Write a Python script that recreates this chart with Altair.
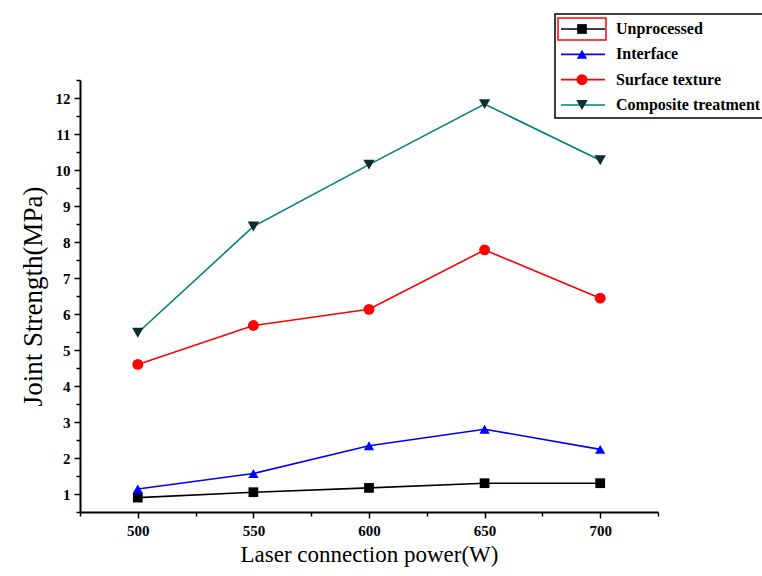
import altair as alt
import pandas as pd

power = [500, 550, 600, 650, 700]
series = ["Unprocessed", "Interface", "Surface texture", "Composite treatment"]
unprocessed = [0.9, 1.05, 1.17, 1.3, 1.3]
interface = [1.14, 1.57, 2.34, 2.8, 2.24]
surface = [4.6, 5.68, 6.13, 7.78, 6.44]
composite = [5.48, 8.43, 10.15, 11.83, 10.27]

line_colors = ["#000000", "#0000ff", "#ff0000", "#008080"]
marker_colors = ["#000000", "#0000ff", "#ff0000", "#0b2e2e"]
shapes = ["square", "triangle-up", "circle", "triangle-down"]
sizes = [95, 130, 120, 150]

x_ticks = [475, 500, 525, 550, 575, 600, 625, 650, 675, 700, 725]
y_ticks = [i / 2 for i in range(1, 26)]

rows = []
for name, vals in zip(series, [unprocessed, interface, surface, composite]):
    for p, v in zip(power, vals):
        rows.append({"power": p, "value": v, "series": name})
df = pd.DataFrame(rows)
legend_df = pd.DataFrame({"series": series, "row": list(range(len(series)))})

FONT = "Liberation Serif"

color_scale = alt.Scale(domain=series, range=line_colors)
fill_scale = alt.Scale(domain=series, range=marker_colors)
shape_scale = alt.Scale(domain=series, range=shapes)
size_scale = alt.Scale(domain=series, range=sizes)

x_enc = alt.X(
    "power:Q",
    scale=alt.Scale(domain=[475, 725], nice=False, zero=False),
    axis=alt.Axis(
        values=x_ticks,
        labelExpr="datum.value % 50 === 0 ? format(datum.value, 'd') : ''",
        tickSize={"condition": {"test": "datum.value % 50 === 0", "value": 6}, "value": 4},
        title="Laser connection power(W)",
        titleFontSize=23,
        titlePadding=5,
        labelPadding=5,
    ),
)
y_enc = alt.Y(
    "value:Q",
    scale=alt.Scale(domain=[0.5, 12.5], nice=False, zero=False),
    axis=alt.Axis(
        values=y_ticks,
        labelExpr="datum.value % 1 === 0 ? format(datum.value, 'd') : ''",
        tickSize={"condition": {"test": "datum.value % 1 === 0", "value": 6}, "value": 4},
        title="Joint Strength(MPa)",
        titleFontSize=27,
        titlePadding=8,
        labelPadding=4,
    ),
)

base = alt.Chart(df)
lines = base.mark_line(strokeWidth=1.6).encode(
    x=x_enc, y=y_enc,
    color=alt.Color("series:N", scale=color_scale, legend=None),
    detail="series:N",
)
pts = base.mark_point(filled=True, opacity=1).encode(
    x=x_enc, y=y_enc,
    shape=alt.Shape("series:N", scale=shape_scale, legend=None),
    fill=alt.Fill("series:N", scale=fill_scale, legend=None),
    size=alt.Size("series:N", scale=size_scale, legend=None),
)
main = alt.layer(lines, pts)

ly = alt.Y("row:Q", scale=alt.Scale(domain=[0, 3], range=[-51, 25]), axis=None)
lbase = alt.Chart(legend_df)
box = lbase.mark_rect(fill="white", stroke="black", strokeWidth=1.5).encode(
    x=alt.value(475), x2=alt.value(700), y=alt.value(-66), y2=alt.value(38)
).transform_filter("datum.row === 0")
redbox = lbase.mark_rect(fill=None, stroke="red", strokeWidth=1.5).encode(
    x=alt.value(478), x2=alt.value(526), y=alt.value(-62), y2=alt.value(-40)
).transform_filter("datum.row === 0")
lrules = lbase.mark_rule(strokeWidth=1.6).encode(
    x=alt.value(481), x2=alt.value(525), y=ly,
    color=alt.Color("series:N", scale=color_scale, legend=None),
)
lpts = lbase.mark_point(filled=True, opacity=1).encode(
    x=alt.value(502), y=ly,
    shape=alt.Shape("series:N", scale=shape_scale, legend=None),
    fill=alt.Fill("series:N", scale=fill_scale, legend=None),
    size=alt.Size("series:N", scale=size_scale, legend=None),
)
ltext = lbase.mark_text(
    align="left", baseline="middle", font=FONT, fontSize=16, fontWeight="bold", color="black"
).encode(x=alt.value(536), y=ly, text="series:N")
legend = alt.layer(box, redbox, lrules, lpts, ltext)

chart = (
    alt.layer(main, legend)
    .resolve_scale(y="independent")
    .properties(
        width=578,
        height=432,
        autosize=alt.AutoSizeParams(type="none"),
        padding={"left": 80, "top": 80, "right": 104, "bottom": 64},
        background="white",
    )
    .configure_view(stroke=None)
    .configure_axis(
        grid=False,
        domainColor="black",
        domainWidth=2,
        tickColor="black",
        tickWidth=1.5,
        labelFont=FONT,
        labelFontSize=15,
        labelFontWeight="bold",
        labelColor="black",
        labelFlush=False,
        labelOverlap=False,
        titleFont=FONT,
        titleFontWeight="normal",
        titleColor="black",
    )
)

chart.save("out.html", embed_options={"renderer": "svg", "actions": False})
